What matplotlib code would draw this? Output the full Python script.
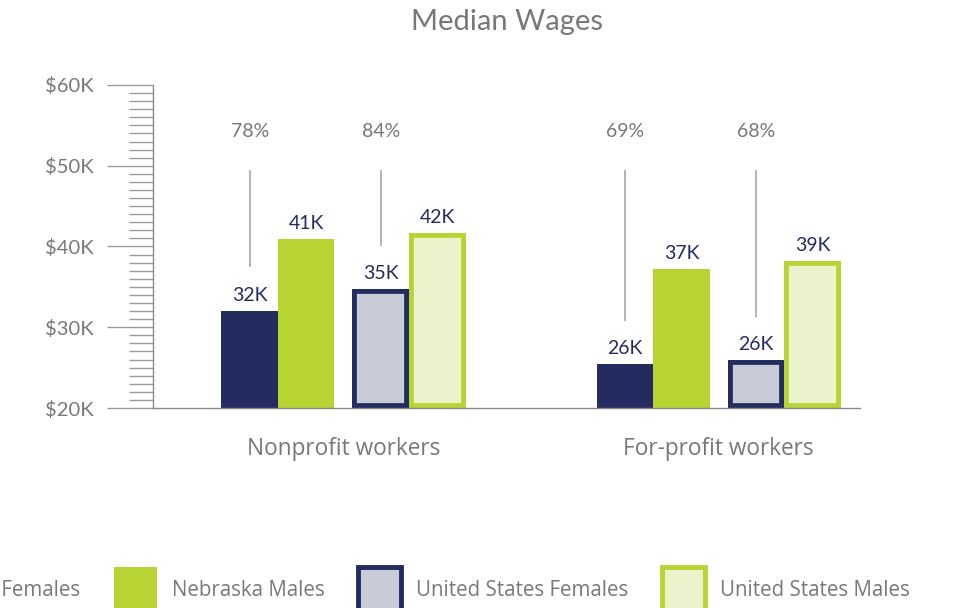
#Median wages, Nebraska vs United States, grouped bars

import numpy as np
import matplotlib.pyplot as plt
from matplotlib.patches import Patch
from matplotlib.ticker import MultipleLocator, FuncFormatter

#data (thousands of dollars)
groups=['Nonprofit workers','For-profit workers']
series=['Nebraska Females','Nebraska Males','United States Females','United States Males']
ne_fem=[32.0,25.4]
ne_male=[40.9,37.2]
us_fem=[34.7,25.9]
us_male=[41.7,38.2]
val_labels=[['32K','26K'],['41K','37K'],['35K','26K'],['42K','39K']]
ne_ratio=['78%','69%']
us_ratio=['84%','68%']

#styles
navy='#242b5f'
green='#b8d432'
grey_fill='#c8ccd9'
green_fill='#ecf3cc'
txt='#787878'
face=[navy,green,grey_fill,green_fill]
edge=[navy,green,navy,green]
lw=[0,0,7,7]

plt.rcParams['font.family']=['Lato','DejaVu Sans']

fig=plt.figure(figsize=(9.59,6.08),dpi=100)
ax=fig.add_axes([153/959,1-408/608,707/959,323/608])

g=np.arange(len(groups))
centers=3.37+6.64*g
offs=[-1.66,-0.66,0.66,1.66]
vals=[ne_fem,ne_male,us_fem,us_male]

for i,(v,o) in enumerate(zip(vals,offs)):
	bars=ax.bar(centers+o,np.array(v)-20,bottom=20,width=1.0,color=face[i],
		edgecolor=edge[i],linewidth=lw[i],label=series[i])
	for b,lab in zip(bars,val_labels[i]):
		if lw[i]>0:
			b.set_clip_path(b)	#keep the outline inside the bar
		ax.annotate(lab,(b.get_x()+b.get_width()/2,b.get_y()+b.get_height()),
			xytext=(0,5),textcoords='offset points',ha='center',va='bottom',
			fontsize=14,color=navy)

#female / male ratio callouts
for x,v,r in [(centers+offs[0],ne_fem,ne_ratio),(centers+offs[2],us_fem,us_ratio)]:
	for xi,vi,ri in zip(x,v,r):
		ax.vlines(xi,vi+5.4,49.5,color='#a8a8a8',lw=1.2)
		ax.text(xi,54.2,ri,ha='center',va='center',fontsize=14,color=txt)

ax.set_xlim(0,12.51)
ax.set_ylim(20,60)
for s in ['top','right']:
	ax.spines[s].set_visible(False)
ax.spines['left'].set_color('#8a8a8a')
ax.spines['bottom'].set_color('#8a8a8a')
ax.spines['left'].set_linewidth(1)
ax.spines['bottom'].set_linewidth(1)
ax.set_xticks(centers)
ax.set_xticklabels(groups,fontsize=16.3,color=txt,family=['Open Sans','DejaVu Sans'])
ax.tick_params(axis='x',length=0,pad=21)
ax.yaxis.set_major_locator(MultipleLocator(10))
ax.yaxis.set_minor_locator(MultipleLocator(1))
ax.yaxis.set_major_formatter(FuncFormatter(lambda y,p:'$%dK'%y))
ax.tick_params(axis='y',which='major',length=33,width=1,color='#9a9a9a',
	labelsize=14.5,labelcolor=txt,pad=10)
ax.tick_params(axis='y',which='minor',length=17,width=1,color='#9a9a9a')
for t in ax.yaxis.get_minor_ticks():
	loc=t.get_loc()
	if abs(loc%10-5)<0.01:
		t.tick1line.set_markersize(22)

fig.text(507/959,1-22/608,'Median Wages',ha='center',va='center',fontsize=21,color=txt)

handles=[Patch(facecolor=face[i],edgecolor=edge[i],linewidth=lw[i]*0.5) for i in range(4)]
leg=fig.legend(handles,series,loc='upper right',bbox_to_anchor=(910/959,1-567/608),
	ncol=4,frameon=False,handlelength=2.1,handleheight=3.06,
	handletextpad=0.72,columnspacing=1.65,borderpad=0,borderaxespad=0,
	prop={'family':['Open Sans','DejaVu Sans'],'size':14.8})
for t in leg.get_texts():
	t.set_color(txt)

plt.savefig('out.png',dpi=100)
